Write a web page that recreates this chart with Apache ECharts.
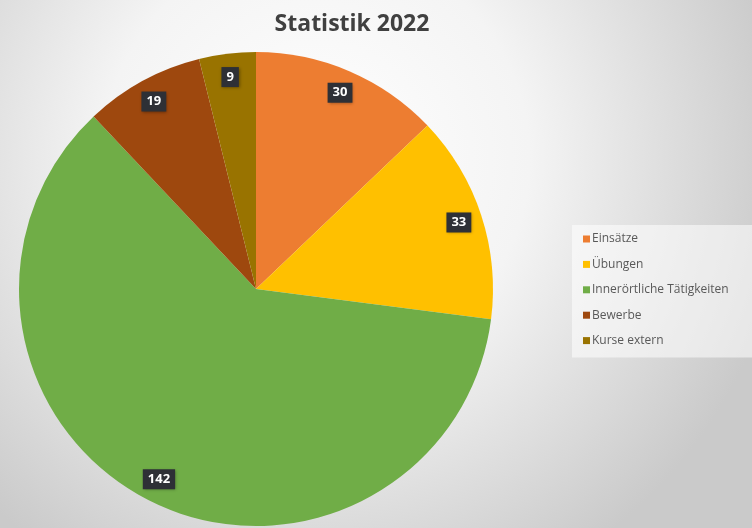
<!DOCTYPE html>
<html>
<head>
<meta charset="utf-8">
<script src="https://cdn.jsdelivr.net/npm/echarts@6/dist/echarts.min.js"></script>
<style>
html,body{margin:0;padding:0;}
#chart{width:752px;height:528px;}
</style>
</head>
<body>
<div id="chart"></div>
<script>
const titleText = 'Statistik 2022';
const categories = ['Einsätze', 'Übungen', 'Innerörtliche Tätigkeiten', 'Bewerbe', 'Kurse extern'];
const values = [30, 33, 142, 19, 9];
const colors = ['#ED7D31', '#FFC000', '#70AD47', '#9E480E', '#997300'];

const chart = echarts.init(document.getElementById('chart'));
const pieData = categories.map((c, i) => ({ name: c, value: values[i], itemStyle: { color: colors[i] } }));
const labelData = categories.map((c, i) => ({ name: c, value: values[i] }));

chart.setOption({
  backgroundColor: {
    type: 'radial', x: 0.42, y: 0.3, r: 0.9,
    colorStops: [
      { offset: 0, color: '#ffffff' },
      { offset: 0.45, color: '#f4f4f4' },
      { offset: 1, color: '#cacaca' }
    ]
  },
  title: {
    text: titleText, left: 347, top: 8, textAlign: 'center',
    textStyle: { fontFamily: 'Open Sans', fontWeight: 'bold', fontSize: 23, color: '#404040' }
  },
  legend: {
    orient: 'vertical', left: 572, top: 225,
    data: categories,
    itemWidth: 7, itemHeight: 7, itemGap: 13.4,
    icon: 'rect',
    padding: [8, 24, 11, 11],
    backgroundColor: 'rgba(255,255,255,0.55)',
    textStyle: { fontFamily: 'Open Sans', fontSize: 12, color: '#595959', padding: [0, 0, 0, -3] }
  },
  series: [
    {
      type: 'pie', center: [256, 289], radius: [0, 237],
      startAngle: 90, clockwise: true,
      data: pieData,
      label: { show: false }, labelLine: { show: false },
      emphasis: { disabled: true }, silent: true
    },
    {
      type: 'pie', center: [256, 289], radius: [184, 237],
      startAngle: 90, clockwise: true,
      data: labelData,
      itemStyle: { color: 'rgba(0,0,0,0)' },
      label: {
        show: true, position: 'inside', formatter: '{c}',
        backgroundColor: '#2e3036', color: '#ffffff',
        fontFamily: 'Open Sans', fontWeight: 'bold', fontSize: 13,
        padding: [4, 5, 3, 5],
        shadowColor: 'rgba(0,0,0,0.35)', shadowBlur: 3, shadowOffsetX: 1, shadowOffsetY: 1
      },
      labelLine: { show: false },
      emphasis: { disabled: true }, silent: true
    }
  ]
});
</script>
</body>
</html>
